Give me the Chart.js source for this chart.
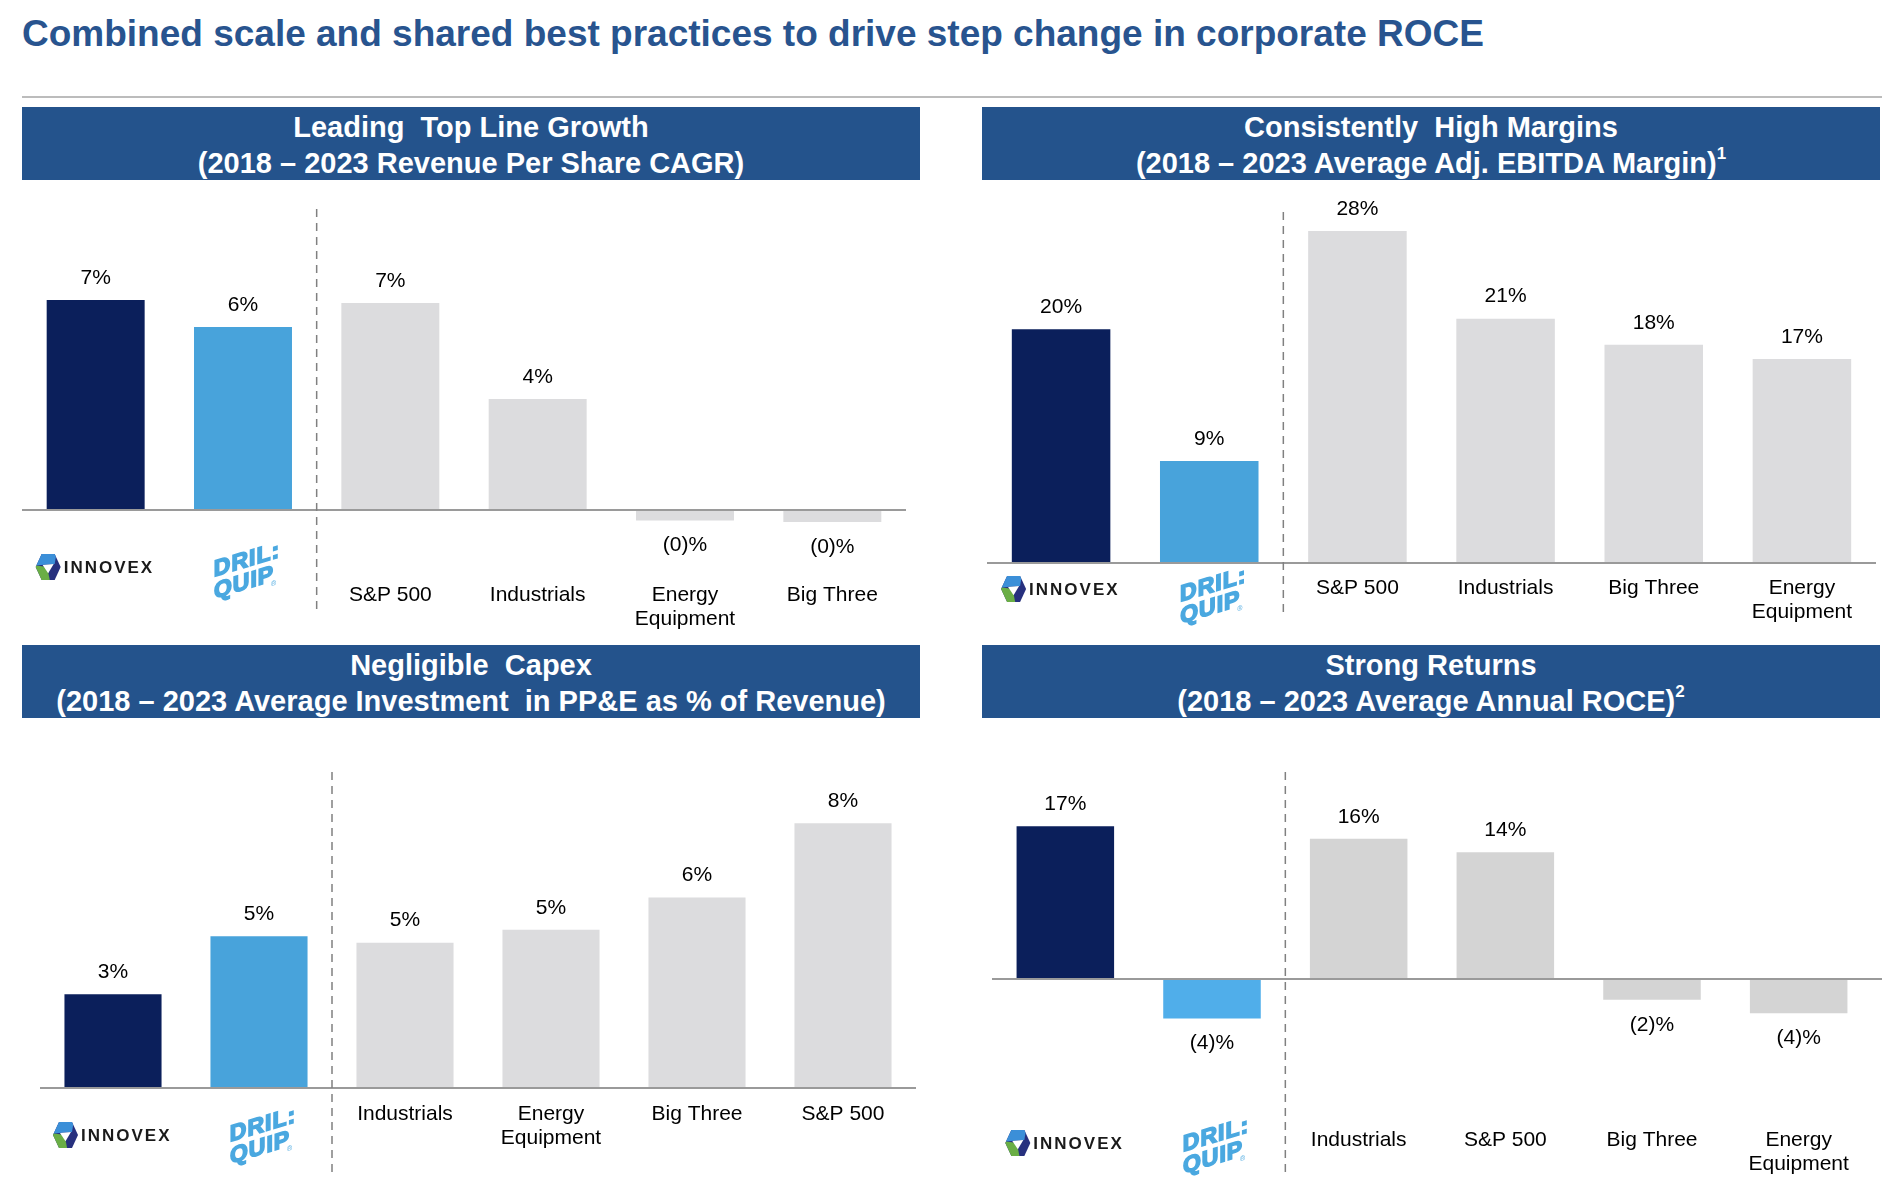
<!DOCTYPE html>
<html>
<head>
<meta charset="utf-8">
<script src="https://cdn.jsdelivr.net/npm/chart.js@4.4.1/dist/chart.umd.min.js"></script>
<style>
  html, body { margin:0; padding:0; background:#fff; }
  body { width:1904px; height:1188px; position:relative; overflow:hidden; font-family:"Liberation Sans", Arial, sans-serif; }
  #title { position:absolute; left:22px; top:12px; font-weight:bold; font-size:37px; color:#28548f; line-height:44px; white-space:nowrap; }
  #rule { position:absolute; left:22px; top:96px; width:1860px; height:2px; background:#bcbcbc; }
  .hdr { position:absolute; width:898px; height:73px; background:#24538c; color:#fff; font-weight:bold; font-size:29px; line-height:36px; text-align:center; white-space:pre; box-sizing:border-box; padding-top:2px; overflow:hidden; }
  .hdr sup { font-size:17px; line-height:0; vertical-align:top; position:relative; top:9px; }
  canvas { position:absolute; }
</style>
</head>
<body>
<div id="title">Combined scale and shared best practices to drive step change in corporate ROCE</div>
<div id="rule"></div>
<div class="hdr" style="left:22px; top:107px;">Leading  Top Line Growth
(2018 – 2023 Revenue Per Share CAGR)</div>
<div class="hdr" style="left:982px; top:107px;">Consistently  High Margins
(2018 – 2023 Average Adj. EBITDA Margin)<sup>1</sup></div>
<div class="hdr" style="left:22px; top:645px;">Negligible  Capex
(2018 – 2023 Average Investment  in PP&amp;E as % of Revenue)</div>
<div class="hdr" style="left:982px; top:645px;">Strong Returns
(2018 – 2023 Average Annual ROCE)<sup>2</sup></div>

<canvas id="c1" width="952" height="460" style="left:0px; top:180px;"></canvas>
<canvas id="c2" width="952" height="460" style="left:952px; top:180px;"></canvas>
<canvas id="c3" width="952" height="470" style="left:0px; top:718px;"></canvas>
<canvas id="c4" width="952" height="470" style="left:952px; top:718px;"></canvas>

<script>
// ---- DATA ----
const growthCategories = ['INNOVEX', 'DRIL-QUIP', 'S&P 500', 'Industrials', ['Energy', 'Equipment'], 'Big Three'];
const growthValues = [7.0, 6.1, 6.9, 3.7, -0.35, -0.4];

const marginCategories = ['INNOVEX', 'DRIL-QUIP', 'S&P 500', 'Industrials', 'Big Three', ['Energy', 'Equipment']];
const marginValues = [19.7, 8.6, 28.0, 20.6, 18.4, 17.2];

const capexCategories = ['INNOVEX', 'DRIL-QUIP', 'Industrials', ['Energy', 'Equipment'], 'Big Three', 'S&P 500'];
const capexValues = [2.9, 4.7, 4.5, 4.9, 5.9, 8.2];

const roceCategories = ['INNOVEX', 'DRIL-QUIP', 'Industrials', 'S&P 500', 'Big Three', ['Energy', 'Equipment']];
const roceValues = [17.0, -4.4, 15.6, 14.1, -2.3, -3.8];

// ---- STYLE ----
const FONT = '"Liberation Sans", Arial, sans-serif';
const NAVY = '#0b1f5b';
const BLUE = '#48a3db';
const GRAY = '#dcdcde';

function fmtPct(v) {
  return v < 0 ? '(' + Math.round(-v) + ')%' : Math.round(v) + '%';
}

function drawInnovex(ctx, cx, cy) {
  const left = cx - 60;
  const w = 25, h = 26, top = cy - h / 2;
  const mx = left + w / 2;
  ctx.save();
  // horizontal hexagon (points left and right)
  ctx.beginPath();
  ctx.moveTo(left + 6, top);
  ctx.lineTo(left + w - 6, top);
  ctx.lineTo(left + w, top + h / 2);
  ctx.lineTo(left + w - 6, top + h);
  ctx.lineTo(left + 6, top + h);
  ctx.lineTo(left, top + h / 2);
  ctx.closePath();
  ctx.fillStyle = '#27307e';
  ctx.fill();
  ctx.clip();
  // green lower-left
  ctx.beginPath();
  ctx.moveTo(left - 2, top + h * 0.42);
  ctx.lineTo(mx - 1, top + h * 0.5);
  ctx.lineTo(mx + 2, top + h + 2);
  ctx.lineTo(left - 2, top + h + 2);
  ctx.closePath();
  ctx.fillStyle = '#6aae45';
  ctx.fill();
  // blue top
  ctx.beginPath();
  ctx.moveTo(left - 2, top - 2);
  ctx.lineTo(left + w - 4, top - 2);
  ctx.lineTo(left + w - 6, top + h * 0.38);
  ctx.lineTo(left - 2, top + h * 0.45);
  ctx.closePath();
  ctx.fillStyle = '#3b8fd8';
  ctx.fill();
  // white triangle
  ctx.beginPath();
  ctx.moveTo(left + 7, top + h * 0.42);
  ctx.lineTo(left + w - 7, top + h * 0.38);
  ctx.lineTo(mx, top + h * 0.74);
  ctx.closePath();
  ctx.fillStyle = '#ffffff';
  ctx.fill();
  ctx.restore();
  ctx.save();
  ctx.fillStyle = '#1a1a1a';
  ctx.font = '600 17px ' + FONT;
  ctx.textAlign = 'left';
  ctx.textBaseline = 'middle';
  try { ctx.letterSpacing = '2px'; } catch (e) {}
  ctx.fillText('INNOVEX', left + w + 3, cy + 1);
  ctx.restore();
}

function drawDrilQuip(ctx, cx, cy) {
  ctx.save();
  ctx.translate(cx, cy);
  ctx.transform(1, -0.3, 0, 1, 0, 0);
  ctx.fillStyle = '#4aa8e0';
  ctx.strokeStyle = '#4aa8e0';
  ctx.lineWidth = 1.6;
  ctx.lineJoin = 'miter';
  ctx.font = 'bold 23px ' + FONT;
  ctx.textAlign = 'center';
  ctx.textBaseline = 'middle';
  try { ctx.letterSpacing = '1px'; } catch (e) {}
  ctx.fillText('DRIL:', 2, -9);
  ctx.strokeText('DRIL:', 2, -9);
  ctx.fillText('QUIP', -1, 13);
  ctx.strokeText('QUIP', -1, 13);
  ctx.font = '7px ' + FONT;
  ctx.fillText('®', 29, 22);
  ctx.restore();
}

const panelPlugin = {
  id: 'panel',
  afterDatasetsDraw(chart, args, opts) {
    const { ctx, chartArea } = chart;
    const xs = chart.scales.x, ys = chart.scales.y;
    ctx.save();
    // zero axis line
    const y0 = ys.getPixelForValue(0);
    ctx.strokeStyle = '#9a9a9a';
    ctx.lineWidth = 2;
    ctx.beginPath();
    ctx.moveTo(chartArea.left, y0);
    ctx.lineTo(chartArea.right + (opts.zeroExt || 0), y0);
    ctx.stroke();
    // dashed separator
    const xd = (xs.getPixelForValue(1) + xs.getPixelForValue(2)) / 2;
    ctx.strokeStyle = '#808080';
    ctx.lineWidth = 1.5;
    ctx.setLineDash([8, 6]);
    ctx.beginPath();
    ctx.moveTo(xd, opts.dashTop);
    ctx.lineTo(xd, opts.dashBottom);
    ctx.stroke();
    ctx.setLineDash([]);
    // value labels
    const meta = chart.getDatasetMeta(0);
    const data = chart.data.datasets[0].data;
    ctx.fillStyle = '#000';
    ctx.font = '21px ' + FONT;
    ctx.textAlign = 'center';
    ctx.textBaseline = 'middle';
    meta.data.forEach((bar, i) => {
      const v = data[i];
      const yy = v >= 0 ? bar.y - 22 : bar.y + 25;
      ctx.fillText(fmtPct(v), bar.x, yy);
    });
    ctx.restore();
    // logos
    drawInnovex(ctx, xs.getPixelForValue(0), opts.logoY);
    drawDrilQuip(ctx, xs.getPixelForValue(1) + 2, opts.dqY);
  }
};

function makeChart(id, cats, vals, blue, gray, cfg) {
  return new Chart(document.getElementById(id), {
    type: 'bar',
    data: {
      labels: cats,
      datasets: [{
        data: vals,
        backgroundColor: [NAVY, blue, gray, gray, gray, gray],
        barPercentage: 0.665,
        categoryPercentage: 1
      }]
    },
    options: {
      responsive: false,
      animation: false,
      layout: { padding: { left: cfg.padL, right: cfg.padR, top: cfg.padT, bottom: 0 } },
      plugins: {
        legend: { display: false },
        tooltip: { enabled: false },
        panel: cfg.panel
      },
      scales: {
        x: {
          grid: { display: false, drawTicks: false },
          border: { display: false },
          ticks: {
            padding: 0,
            color: '#000',
            maxRotation: 0,
            autoSkip: false,
            font: { family: FONT, size: 21, lineHeight: 1.15 },
            callback: function (v, i) { return i < 2 ? '' : this.getLabelForValue(v); }
          },
          afterFit: function (s) { s.height = cfg.axisH; }
        },
        y: { display: false, min: cfg.min, max: cfg.max }
      }
    },
    plugins: [panelPlugin]
  });
}

makeChart('c1', growthCategories, growthValues, BLUE, GRAY, {
  padL: 22, padR: 46, padT: 20, axisH: 57, min: -2.433, max: 10.333,
  panel: { dashTop: 29, dashBottom: 433, logoY: 387, dqY: 390, zeroExt: 0 }
});
makeChart('c2', marginCategories, marginValues, BLUE, GRAY, {
  padL: 35, padR: 28, padT: 10, axisH: 64, min: -1.096, max: 31.45,
  panel: { dashTop: 32, dashBottom: 432, logoY: 409, dqY: 415, zeroExt: 0 }
});
makeChart('c3', capexCategories, capexValues, BLUE, GRAY, {
  padL: 40, padR: 36, padT: 20, axisH: 86, min: -0.433, max: 10.836,
  panel: { dashTop: 54, dashBottom: 454, logoY: 417, dqY: 417, zeroExt: 0 }
});
makeChart('c4', roceCategories, roceValues, '#50aeea', '#d4d4d4', {
  padL: 40, padR: 32, padT: 20, axisH: 60, min: -16.57, max: 26.81,
  panel: { dashTop: 54, dashBottom: 454, logoY: 425, dqY: 427, zeroExt: 10 }
});
</script>
</body>
</html>
